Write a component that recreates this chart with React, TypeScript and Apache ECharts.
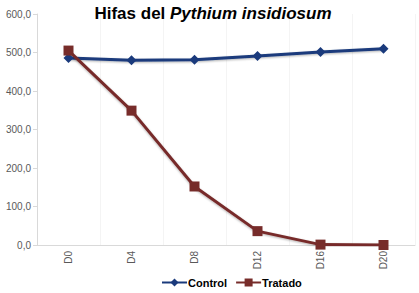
import React, { useEffect, useRef } from "react";
import * as echarts from "echarts";

const categories = ["D0", "D4", "D8", "D12", "D16", "D20"];
const controlValues = [486, 480, 481, 491, 501, 510];
const tratadoValues = [505, 349, 152, 36, 1, 0];

export default function App() {
  const ref = useRef<HTMLDivElement>(null);
  useEffect(() => {
    if (!ref.current) return;
    const chart = echarts.init(ref.current, null, { renderer: "svg" });
    chart.setOption({
      animation: false,
      backgroundColor: "#ffffff",
      title: {
        text: "{a|Hifas del }{b|Pythium insidiosum}",
        left: 208,
        textAlign: "center",
        top: 0,
        textStyle: {
          rich: {
            a: { fontFamily: "Liberation Sans", fontWeight: "bold", fontSize: 17, color: "#000" },
            b: { fontFamily: "Liberation Sans", fontWeight: "bold", fontStyle: "italic", fontSize: 17, color: "#000" },
          },
        },
      },
      grid: { left: 37, right: 4, top: 14, bottom: 48 },
      legend: {
        bottom: 0,
        left: 156,
        itemWidth: 25,
        itemHeight: 10,
        itemGap: 8,
        textStyle: { fontFamily: "Liberation Sans", fontWeight: "bold", fontSize: 11, color: "#000", padding: [0, 0, 0, -4] },
        data: ["Control", "Tratado"],
      },
      xAxis: {
        type: "category",
        data: categories,
        boundaryGap: true,
        axisLine: { lineStyle: { color: "#D9D9D9" } },
        axisTick: { show: false },
        splitLine: { show: true, lineStyle: { color: "#F4F4F4" } },
        axisLabel: { rotate: 90, color: "#595959", fontSize: 10, fontFamily: "Liberation Sans", margin: 6 },
      },
      yAxis: {
        type: "value",
        min: 0,
        max: 600,
        interval: 100,
        axisLine: { show: true, lineStyle: { color: "#D9D9D9" } },
        axisTick: { show: true, length: 4, lineStyle: { color: "#D9D9D9" } },
        splitLine: { show: false },
        axisLabel: {
          color: "#595959",
          fontSize: 10,
          fontFamily: "Liberation Sans",
          margin: 6,
          formatter: (v: number) => v.toFixed(1).replace(".", ","),
        },
      },
      series: [
        {
          name: "Control",
          type: "line",
          data: controlValues,
          symbol: "diamond",
          symbolSize: 10,
          lineStyle: { width: 3, color: "#1A3A7C", shadowColor: "rgba(0,0,0,0.3)", shadowBlur: 2, shadowOffsetY: 1 },
          itemStyle: { color: "#1A3A7C" },
        },
        {
          name: "Tratado",
          type: "line",
          data: tratadoValues,
          symbol: "rect",
          symbolSize: 10,
          lineStyle: { width: 3, color: "#772C2A", shadowColor: "rgba(0,0,0,0.3)", shadowBlur: 2, shadowOffsetY: 1 },
          itemStyle: { color: "#772C2A" },
        },
      ],
    });
    return () => chart.dispose();
  }, []);
  return <div ref={ref} style={{ width: 419, height: 293, position: "absolute", left: 0, top: 0 }} />;
}
